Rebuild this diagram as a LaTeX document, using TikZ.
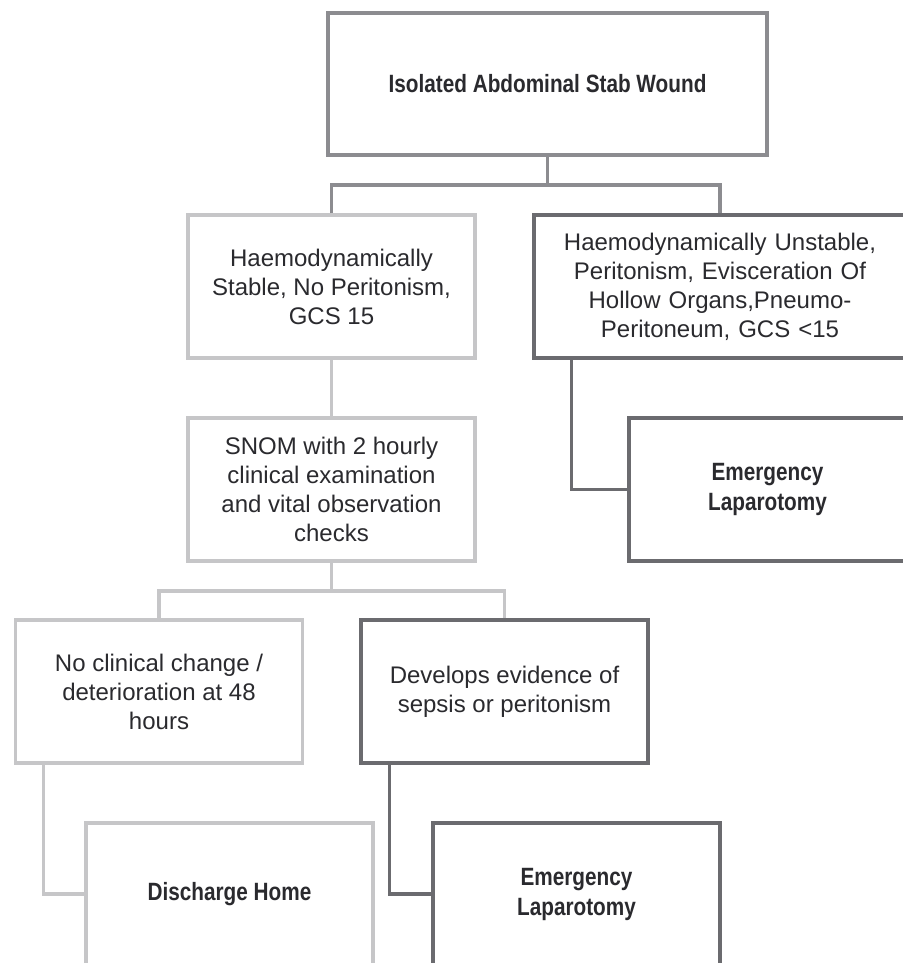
\documentclass[tikz,border=0pt]{standalone}
\usepackage{fontspec}
\setmainfont{Liberation Sans}[BoldFeatures={FakeStretch=0.83}]
\definecolor{lightln}{HTML}{C6C6C8}
\definecolor{midln}{HTML}{8C8C90}
\definecolor{darkln}{HTML}{6B6B6F}
\definecolor{txt}{HTML}{2A2A2E}
\begin{document}
\begin{tikzpicture}[x=1pt,y=-1pt,
  box/.style={draw, line width=3.2pt, fill=white, align=center, inner sep=0pt,
    text=txt, font=\fontsize{24}{29}\selectfont},
  bbox/.style={box, font=\fontsize{25}{30}\selectfont\bfseries},
  lightbox/.style={draw=lightln},
  darkbox/.style={draw=darkln},
  midbox/.style={draw=midln},
  conn/.style={line width=3.2pt},
]
\useasboundingbox (0,0) rectangle (902,963);
\fill[white] (0,0) rectangle (902,963);

\node[bbox, midbox, minimum width=439pt, minimum height=142pt] (top) at (547.5,84) {Isolated Abdominal Stab Wound};
\node[box, lightbox, minimum width=287pt, minimum height=143pt] (stable) at (331.5,286.5) {Haemodynamically\\Stable, No Peritonism,\\GCS 15};
\node[box, darkbox, minimum width=372pt, minimum height=143pt, text width=372pt] (unstable) at (720,286.5) {Haemodynamically Unstable,\\Peritonism, Evisceration Of\\Hollow Organs,Pneumo-\\Peritoneum, GCS <15};
\node[box, lightbox, minimum width=287pt, minimum height=143pt] (snom) at (331.5,489.5) {SNOM with 2 hourly\\clinical examination\\and vital observation\\checks};
\node[bbox, darkbox, minimum width=277pt, minimum height=143pt, text width=277pt] (el1) at (767.5,489.5) {Emergency\\Laparotomy};
\node[box, lightbox, minimum width=287pt, minimum height=143pt] (nochange) at (159,691.5) {No clinical change /\\deterioration at 48\\hours};
\node[box, darkbox, minimum width=287pt, minimum height=143pt] (develops) at (504.5,691.5) {Develops evidence of\\sepsis or peritonism};
\node[bbox, lightbox, minimum width=287pt, minimum height=142pt] (discharge) at (229.5,894) {Discharge Home};
\node[bbox, darkbox, minimum width=287pt, minimum height=142pt] (el2) at (576.5,894) {Emergency\\Laparotomy};

\coordinate (j1) at (547.5,185);
\coordinate (j2) at (331.5,591);
\draw[conn, midln] (top.south) -- (j1);
\draw[conn, midln] (stable.north) |- (j1) -| (unstable.north);
\draw[conn, lightln] (stable.south) -- (snom.north);
\draw[conn, darkln] ([xshift=39pt]unstable.south west) |- (el1.west);
\draw[conn, lightln] (snom.south) -- (j2);
\draw[conn, lightln] (nochange.north) |- (j2) -| (develops.north);
\draw[conn, lightln] ([xshift=29.5pt]nochange.south west) |- (discharge.west);
\draw[conn, darkln] ([xshift=30pt]develops.south west) |- (el2.west);
\end{tikzpicture}
\end{document}
